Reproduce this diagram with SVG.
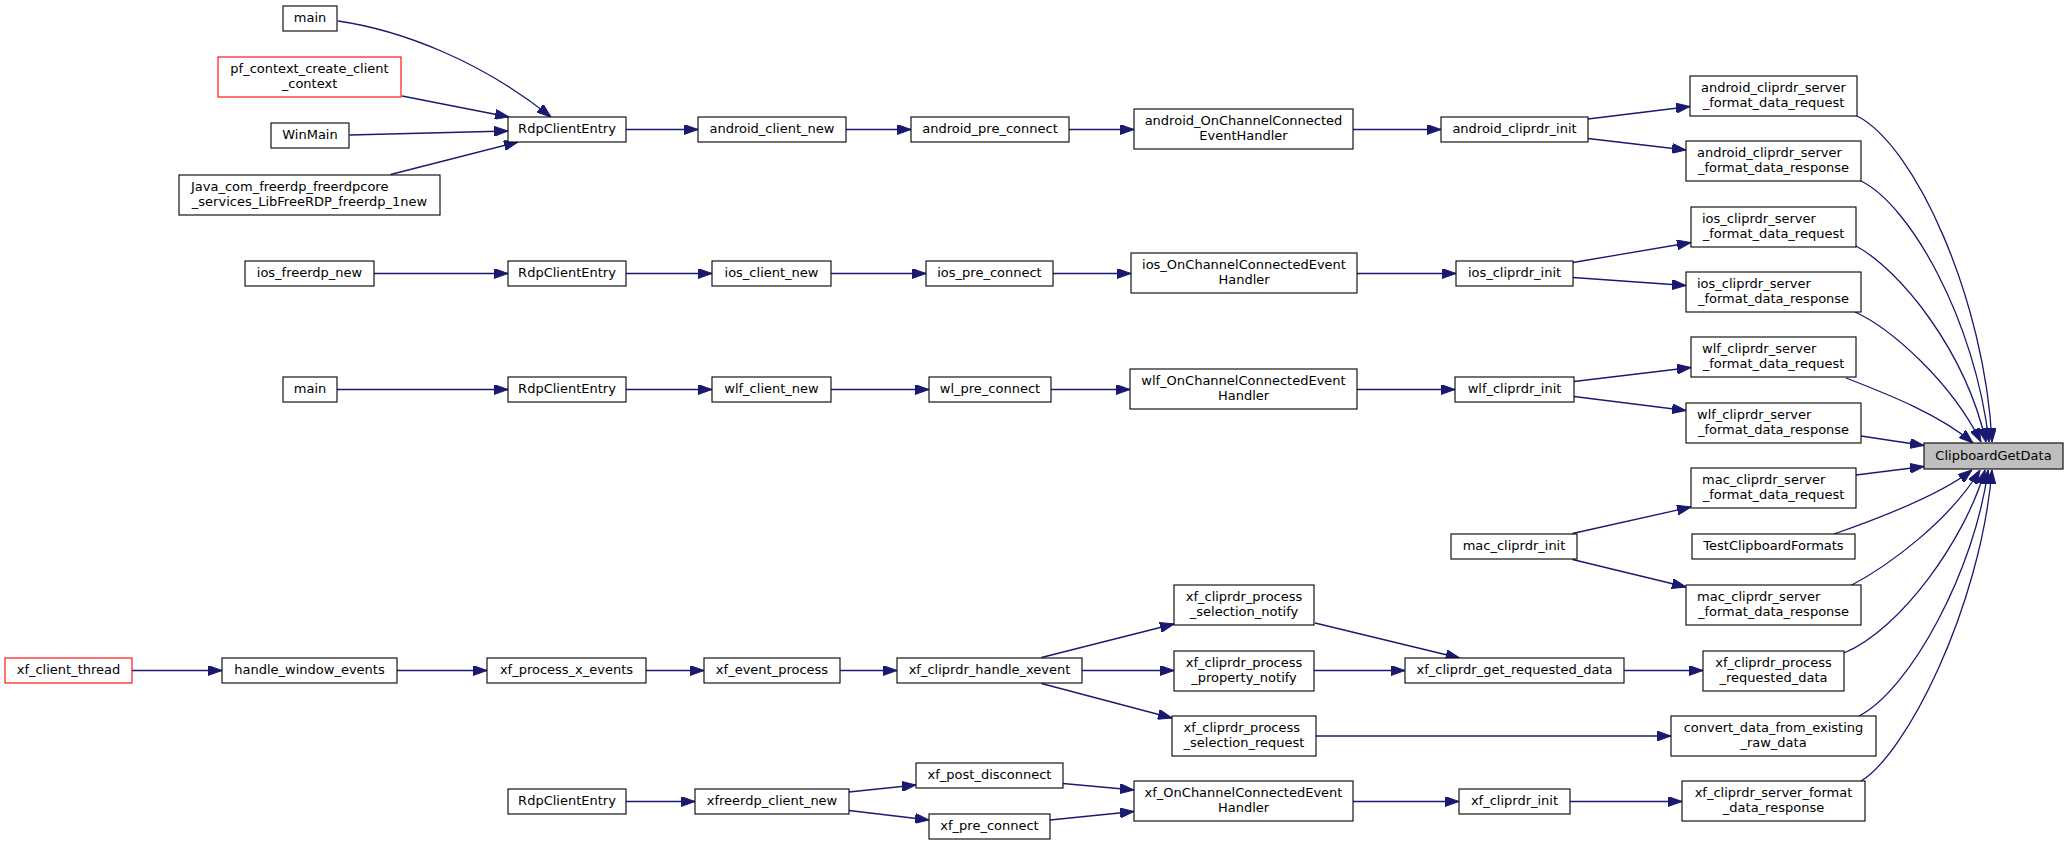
<svg xmlns="http://www.w3.org/2000/svg" width="2068" height="845" viewBox="0 0 2068 845">
<style>
.n rect{fill:#fff;stroke:#000;stroke-width:1.1}
.n.red rect{stroke:#f00}
.n.gray rect{fill:#bfbfbf}
.n text{font-family:"DejaVu Sans",Verdana,sans-serif;font-size:13px;fill:#000;text-anchor:middle}
.n text.l{text-anchor:start}
#edges path{fill:none;stroke:#191970;stroke-width:1.3;marker-end:url(#a)}
</style>
<defs>
<marker id="a" markerUnits="userSpaceOnUse" markerWidth="14" markerHeight="10" refX="14" refY="5" orient="auto" viewBox="0 0 14 10"><path d="M0,0 L14,5 L0,10 z" fill="#191970" stroke="#191970" stroke-width="1"/></marker>
</defs>
<rect width="2068" height="845" fill="#fff"/>
<g id="edges">
<path d="M338,21 C400,30 480,60 551,117"/>
<path d="M402,96 L509,117"/>
<path d="M349.5,135 L508,131"/>
<path d="M390.6,174.5 L518,142"/>
<path d="M626,129.5 H698"/>
<path d="M846,129.5 H911"/>
<path d="M1069,129.5 H1134"/>
<path d="M1353,129.5 H1441"/>
<path d="M1588,119 L1690,106.5"/>
<path d="M1588,138.5 L1686,150"/>
<path d="M374,273.5 H508"/>
<path d="M626,273.5 H712"/>
<path d="M831,273.5 H926"/>
<path d="M1053,273.5 H1131"/>
<path d="M1357,273.5 H1456"/>
<path d="M1573,262.5 L1691,242.5"/>
<path d="M1573,277.5 L1686,285.5"/>
<path d="M337,389.5 H508"/>
<path d="M626,389.5 H712"/>
<path d="M831,389.5 H929"/>
<path d="M1051,389.5 H1130"/>
<path d="M1357,389.5 H1455"/>
<path d="M1574,381.5 L1691,367.5"/>
<path d="M1574,396.5 L1686,410.5"/>
<path d="M1572.5,533.5 L1691,507"/>
<path d="M1572.5,559.5 L1686,587"/>
<path d="M1857,116 C1915,145 1985,300 1992,442"/>
<path d="M1861,181 C1910,205 1975,320 1989,442"/>
<path d="M1856,246 C1900,270 1965,350 1986,442"/>
<path d="M1855,312 C1890,328 1950,380 1981,442"/>
<path d="M1846,378 C1890,395 1940,415 1973,443"/>
<path d="M1861,436 L1924,445.5"/>
<path d="M1856,475 L1924,466.5"/>
<path d="M1834,534 C1880,518 1940,495 1972,470"/>
<path d="M1850,586 C1890,565 1950,520 1980,470"/>
<path d="M1844,653 C1900,630 1965,540 1985,470"/>
<path d="M1859,716 C1910,690 1975,570 1988,470"/>
<path d="M1861,781 C1905,755 1980,610 1992,470"/>
<path d="M132,670.5 H222"/>
<path d="M397,670.5 H487"/>
<path d="M646,670.5 H704"/>
<path d="M840,670.5 H897"/>
<path d="M1041.5,657.5 L1174,624"/>
<path d="M1082,670.5 H1174"/>
<path d="M1041.5,683.5 L1172,718"/>
<path d="M1315,623 L1459.6,658"/>
<path d="M1314,670.5 H1405"/>
<path d="M1624,670.5 H1703"/>
<path d="M1316,736 H1671"/>
<path d="M626,801.5 H695"/>
<path d="M849,792 L916,785"/>
<path d="M849,810.5 L929,820"/>
<path d="M1063,783.5 L1134,790"/>
<path d="M1050,820 L1134,811.5"/>
<path d="M1353,801.5 H1459"/>
<path d="M1570,801.5 H1682"/>
</g>
<g id="main1" class="n"><rect x="283" y="6" width="54" height="25"/><text x="310" y="22">main</text></g>
<g id="pf_context" class="n red"><rect x="218" y="57" width="183" height="40"/><text x="309.5" y="72.5">pf_context_create_client</text><text x="309.5" y="87.5">_context</text></g>
<g id="WinMain" class="n"><rect x="271" y="123" width="78" height="25"/><text x="310" y="139">WinMain</text></g>
<g id="Java" class="n"><rect x="179" y="175" width="261" height="40"/><text class="l" x="191" y="190.5">Java_com_freerdp_freerdpcore</text><text x="309.5" y="205.5">_services_LibFreeRDP_freerdp_1new</text></g>
<g id="RdpClientEntry1" class="n"><rect x="508" y="117" width="118" height="25"/><text x="567" y="133">RdpClientEntry</text></g>
<g id="android_client_new" class="n"><rect x="698" y="117" width="148" height="25"/><text x="772" y="133">android_client_new</text></g>
<g id="android_pre_connect" class="n"><rect x="911" y="117" width="158" height="25"/><text x="990" y="133">android_pre_connect</text></g>
<g id="android_OnChannel" class="n"><rect x="1134" y="109" width="219" height="40"/><text x="1243.5" y="124.5">android_OnChannelConnected</text><text x="1243.5" y="139.5">EventHandler</text></g>
<g id="android_cliprdr_init" class="n"><rect x="1441" y="117" width="147" height="25"/><text x="1514.5" y="133">android_cliprdr_init</text></g>
<g id="android_req" class="n"><rect x="1690" y="76" width="167" height="40"/><text x="1773.5" y="91.5">android_cliprdr_server</text><text x="1773.5" y="106.5">_format_data_request</text></g>
<g id="android_resp" class="n"><rect x="1686" y="141" width="175" height="40"/><text class="l" x="1697" y="156.5">android_cliprdr_server</text><text x="1773.5" y="171.5">_format_data_response</text></g>
<g id="ios_freerdp_new" class="n"><rect x="245" y="261" width="129" height="25"/><text x="309.5" y="277">ios_freerdp_new</text></g>
<g id="RdpClientEntry2" class="n"><rect x="508" y="261" width="118" height="25"/><text x="567" y="277">RdpClientEntry</text></g>
<g id="ios_client_new" class="n"><rect x="712" y="261" width="119" height="25"/><text x="771.5" y="277">ios_client_new</text></g>
<g id="ios_pre_connect" class="n"><rect x="926" y="261" width="127" height="25"/><text x="989.5" y="277">ios_pre_connect</text></g>
<g id="ios_OnChannel" class="n"><rect x="1131" y="253" width="226" height="40"/><text x="1244" y="268.5">ios_OnChannelConnectedEvent</text><text x="1244" y="283.5">Handler</text></g>
<g id="ios_cliprdr_init" class="n"><rect x="1456" y="261" width="117" height="25"/><text x="1514.5" y="277">ios_cliprdr_init</text></g>
<g id="ios_req" class="n"><rect x="1691" y="207" width="165" height="40"/><text class="l" x="1702" y="222.5">ios_cliprdr_server</text><text x="1773.5" y="237.5">_format_data_request</text></g>
<g id="ios_resp" class="n"><rect x="1686" y="272" width="175" height="40"/><text class="l" x="1697" y="287.5">ios_cliprdr_server</text><text x="1773.5" y="302.5">_format_data_response</text></g>
<g id="main2" class="n"><rect x="283" y="377" width="54" height="25"/><text x="310" y="393">main</text></g>
<g id="RdpClientEntry3" class="n"><rect x="508" y="377" width="118" height="25"/><text x="567" y="393">RdpClientEntry</text></g>
<g id="wlf_client_new" class="n"><rect x="712" y="377" width="119" height="25"/><text x="771.5" y="393">wlf_client_new</text></g>
<g id="wl_pre_connect" class="n"><rect x="929" y="377" width="122" height="25"/><text x="990" y="393">wl_pre_connect</text></g>
<g id="wlf_OnChannel" class="n"><rect x="1130" y="369" width="227" height="40"/><text x="1243.5" y="384.5">wlf_OnChannelConnectedEvent</text><text x="1243.5" y="399.5">Handler</text></g>
<g id="wlf_cliprdr_init" class="n"><rect x="1455" y="377" width="119" height="25"/><text x="1514.5" y="393">wlf_cliprdr_init</text></g>
<g id="wlf_req" class="n"><rect x="1691" y="337" width="165" height="40"/><text class="l" x="1702" y="352.5">wlf_cliprdr_server</text><text x="1773.5" y="367.5">_format_data_request</text></g>
<g id="wlf_resp" class="n"><rect x="1686" y="403" width="175" height="40"/><text class="l" x="1697" y="418.5">wlf_cliprdr_server</text><text x="1773.5" y="433.5">_format_data_response</text></g>
<g id="ClipboardGetData" class="n gray"><rect x="1924" y="443" width="139" height="26"/><text x="1993.5" y="460">ClipboardGetData</text></g>
<g id="mac_req" class="n"><rect x="1691" y="468" width="165" height="40"/><text class="l" x="1702" y="483.5">mac_cliprdr_server</text><text x="1773.5" y="498.5">_format_data_request</text></g>
<g id="TestClipboardFormats" class="n"><rect x="1692" y="534" width="163" height="25"/><text x="1773.5" y="550">TestClipboardFormats</text></g>
<g id="mac_cliprdr_init" class="n"><rect x="1451" y="534" width="126" height="25"/><text x="1514" y="550">mac_cliprdr_init</text></g>
<g id="mac_resp" class="n"><rect x="1686" y="585" width="175" height="40"/><text class="l" x="1697" y="600.5">mac_cliprdr_server</text><text x="1773.5" y="615.5">_format_data_response</text></g>
<g id="xf_client_thread" class="n red"><rect x="5" y="658" width="127" height="25"/><text x="68.5" y="674">xf_client_thread</text></g>
<g id="handle_window_events" class="n"><rect x="222" y="658" width="175" height="25"/><text x="309.5" y="674">handle_window_events</text></g>
<g id="xf_process_x_events" class="n"><rect x="487" y="658" width="159" height="25"/><text x="566.5" y="674">xf_process_x_events</text></g>
<g id="xf_event_process" class="n"><rect x="704" y="658" width="136" height="25"/><text x="772" y="674">xf_event_process</text></g>
<g id="xf_cliprdr_handle_xevent" class="n"><rect x="897" y="658" width="185" height="25"/><text x="989.5" y="674">xf_cliprdr_handle_xevent</text></g>
<g id="sel_notify" class="n"><rect x="1174" y="585" width="140" height="40"/><text x="1244" y="600.5">xf_cliprdr_process</text><text x="1244" y="615.5">_selection_notify</text></g>
<g id="prop_notify" class="n"><rect x="1174" y="651" width="140" height="40"/><text x="1244" y="666.5">xf_cliprdr_process</text><text x="1244" y="681.5">_property_notify</text></g>
<g id="sel_request" class="n"><rect x="1172" y="716" width="144" height="40"/><text class="l" x="1183.5" y="731.5">xf_cliprdr_process</text><text x="1244" y="746.5">_selection_request</text></g>
<g id="get_requested_data" class="n"><rect x="1405" y="658" width="219" height="25"/><text x="1514.5" y="674">xf_cliprdr_get_requested_data</text></g>
<g id="proc_requested" class="n"><rect x="1703" y="651" width="141" height="40"/><text x="1773.5" y="666.5">xf_cliprdr_process</text><text x="1773.5" y="681.5">_requested_data</text></g>
<g id="convert" class="n"><rect x="1671" y="716" width="205" height="40"/><text x="1773.5" y="731.5">convert_data_from_existing</text><text x="1773.5" y="746.5">_raw_data</text></g>
<g id="RdpClientEntry4" class="n"><rect x="508" y="789" width="118" height="25"/><text x="567" y="805">RdpClientEntry</text></g>
<g id="xfreerdp_client_new" class="n"><rect x="695" y="789" width="154" height="25"/><text x="772" y="805">xfreerdp_client_new</text></g>
<g id="xf_post_disconnect" class="n"><rect x="916" y="763" width="147" height="25"/><text x="989.5" y="779">xf_post_disconnect</text></g>
<g id="xf_pre_connect" class="n"><rect x="929" y="814" width="121" height="25"/><text x="989.5" y="830">xf_pre_connect</text></g>
<g id="xf_OnChannel" class="n"><rect x="1134" y="781" width="219" height="40"/><text x="1243.5" y="796.5">xf_OnChannelConnectedEvent</text><text x="1243.5" y="811.5">Handler</text></g>
<g id="xf_cliprdr_init" class="n"><rect x="1459" y="789" width="111" height="25"/><text x="1514.5" y="805">xf_cliprdr_init</text></g>
<g id="xf_server_resp" class="n"><rect x="1682" y="781" width="183" height="40"/><text x="1773.5" y="796.5">xf_cliprdr_server_format</text><text x="1773.5" y="811.5">_data_response</text></g>
</svg>
